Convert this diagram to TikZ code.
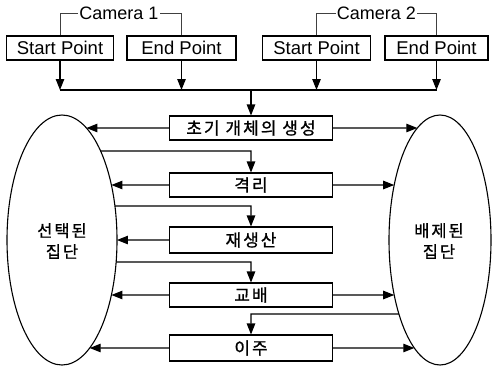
\documentclass[tikz,border=0pt]{standalone}
\usepackage{fontspec}
\setmainfont{Liberation Sans}
\newfontfamily\kr{Noto Sans CJK KR}[LetterSpace=12,FakeBold=1]
\usetikzlibrary{arrows.meta,intersections,calc}
\tikzset{
  box/.style={draw, line width=1.1pt, minimum height=24pt, inner sep=0pt,
    font=\fontsize{18.5}{20}\selectfont},
  kbox/.style={draw, line width=1.1pt, minimum width=163pt, minimum height=24pt, inner sep=0pt,
    font=\kr\fontsize{17}{18}\selectfont},
  arr/.style={line width=1.1pt, -{Triangle[length=11pt,width=8.5pt]}},
  ln/.style={line width=1.1pt},
  brk/.style={line width=0.5pt, black!75},
  cam/.style={inner sep=1pt, font=\fontsize{18}{20}\selectfont},
  grp/.style={align=center, font=\kr\fontsize{16.5}{21}\selectfont},
}
\begin{document}
\begin{tikzpicture}[x=1pt,y=-1pt]
\useasboundingbox (0,0) rectangle (492,367);
% ellipses
\draw[ln, name path=LE] (62,240) ellipse [x radius=55, y radius=125];
\draw[ln, name path=RE] (440,240) ellipse [x radius=51, y radius=125];
\node[grp] (L) at (62,241) {선택된\\집단};
\node[grp] (R) at (439,241) {배제된\\집단};
% top boxes
\node[box, minimum width=107pt] (sp1) at (60,48) {Start Point};
\node[box, minimum width=109pt] (ep1) at (181.5,48) {End Point};
\node[box, minimum width=108pt] (sp2) at (316.5,48) {Start Point};
\node[box, minimum width=103pt] (ep2) at (436.5,48) {End Point};
\node[cam] (c1) at (119,13) {Camera 1};
\node[cam] (c2) at (376.5,13) {Camera 2};
\draw[brk] (sp1.north) |- (c1.west);
\draw[brk] (ep1.north) |- (c1.east);
\draw[brk] (sp2.north) |- (c2.west);
\draw[brk] (ep2.north) |- (c2.east);
% main boxes
\node[kbox] (b1) at (251,128) {초기 개체의 생성};
\node[kbox] (b2) at (251,185) {격리};
\node[kbox, minimum height=26pt] (b3) at (251,240) {재생산};
\node[kbox] (b4) at (251,295) {교배};
\node[kbox, minimum height=26pt] (b5) at (251,348) {이주};
% bus
\coordinate (bus) at (251,90);
\draw[arr] (sp1.south) -- (sp1.south |- bus);
\draw[arr] (ep1.south) -- (ep1.south |- bus);
\draw[arr] (sp2.south) -- (sp2.south |- bus);
\draw[arr] (ep2.south) -- (ep2.south |- bus);
\draw[ln] (sp1.south |- bus) -- (ep2.south |- bus);
\draw[arr] (bus) -- (b1.north);
% box to ellipses
\path[name path=r1] (b1.west) -- +(-250,0);
\draw[arr, name intersections={of=r1 and LE, sort by=r1}] (b1.west) -- (intersection-1);
\path[name path=r2] (b2.west) -- +(-250,0);
\draw[arr, name intersections={of=r2 and LE, sort by=r2}] (b2.west) -- (intersection-1);
\path[name path=r3] (b3.west) -- +(-250,0);
\draw[arr, name intersections={of=r3 and LE, sort by=r3}] (b3.west) -- (intersection-1);
\path[name path=r4] (b4.west) -- +(-250,0);
\draw[arr, name intersections={of=r4 and LE, sort by=r4}] (b4.west) -- (intersection-1);
\path[name path=r5] (b5.west) -- +(-250,0);
\draw[arr, name intersections={of=r5 and LE, sort by=r5}] (b5.west) -- (intersection-1);
\path[name path=s1] (b1.east) -- +(250,0);
\draw[arr, name intersections={of=s1 and RE, sort by=s1}] (b1.east) -- (intersection-1);
\path[name path=s2] (b2.east) -- +(250,0);
\draw[arr, name intersections={of=s2 and RE, sort by=s2}] (b2.east) -- (intersection-1);
\path[name path=s4] (b4.east) -- +(250,0);
\draw[arr, name intersections={of=s4 and RE, sort by=s4}] (b4.east) -- (intersection-1);
\path[name path=s5] (b5.east) -- +(250,0);
\draw[arr, name intersections={of=s5 and RE, sort by=s5}] (b5.east) -- (intersection-1);
% feedback lines
\coordinate (f1) at (251,151);
\coordinate (f2) at (251,206);
\coordinate (f3) at (251,262);
\coordinate (f4) at (251,314);
\path[name path=t1] (f1) -- +(-250,0);
\draw[arr, name intersections={of=t1 and LE, sort by=t1}] (intersection-1) -- (f1) -- (b2.north);
\path[name path=t2] (f2) -- +(-250,0);
\draw[arr, name intersections={of=t2 and LE, sort by=t2}] (intersection-1) -- (f2) -- (b3.north);
\path[name path=t3] (f3) -- +(-250,0);
\draw[arr, name intersections={of=t3 and LE, sort by=t3}] (intersection-1) -- (f3) -- (b4.north);
\path[name path=t4] (f4) -- +(250,0);
\draw[arr, name intersections={of=t4 and RE, sort by=t4}] (intersection-1) -- (f4) -- (b5.north);
\end{tikzpicture}
\end{document}
